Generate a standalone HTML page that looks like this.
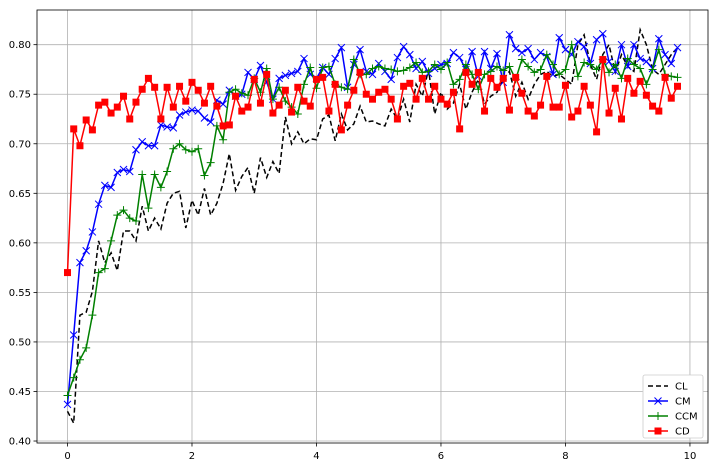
<!DOCTYPE html>
<html><head><meta charset="utf-8"><style>
body{margin:0;background:#fff;font-family:"Liberation Sans","DejaVu Sans",sans-serif;}
svg text{font-family:"DejaVu Sans","Liberation Sans",sans-serif;font-size:10px;fill:#000;}
</style></head><body>
<svg id="chart" width="716" height="469" xmlns="http://www.w3.org/2000/svg"></svg>
<script>
const xTicks=[0,2,4,6,8,10];
const yTicks=[0.40,0.45,0.50,0.55,0.60,0.65,0.70,0.75,0.80];
const seriesNames=["CL","CM","CCM","CD"];
const clValues=[.43,.418,.527,.530,.551,.602,.580,.590,.572,.612,
.612,.602,.637,.612,.625,.614,.640,.650,.652,.615,
.643,.628,.655,.628,.640,.660,.690,.653,.667,.676,
.650,.686,.666,.682,.670,.727,.700,.712,.700,.705,
.704,.725,.729,.703,.730,.714,.720,.738,.722,.723,
.720,.718,.735,.725,.745,.722,.760,.748,.775,.730,
.752,.735,.741,.760,.735,.752,.765,.740,.748,.752,
.765,.773,.748,.762,.745,.760,.770,.773,.768,.770,
.765,.760,.800,.810,.780,.765,.790,.800,.772,.790,
.778,.773,.815,.800,.775,.770,.780,.790,.797];
const cmValues=[.437,.507,.580,.592,.611,.639,.658,.656,.671,.674,
.672,.694,.702,.698,.698,.719,.717,.716,.729,.732,
.734,.733,.726,.722,.744,.740,.754,.748,.750,.772,
.765,.779,.762,.745,.766,.769,.771,.773,.786,.770,
.766,.777,.770,.786,.797,.757,.780,.795,.773,.770,
.781,.773,.765,.787,.798,.790,.776,.783,.771,.776,
.780,.781,.792,.787,.775,.793,.768,.793,.776,.791,
.762,.810,.796,.792,.796,.785,.792,.788,.770,.807,
.795,.790,.803,.798,.781,.805,.811,.783,.773,.800,
.778,.800,.786,.783,.776,.806,.790,.781,.797];
const ccmValues=[.446,.464,.482,.494,.527,.570,.574,.602,.628,.633,
.625,.622,.669,.635,.669,.656,.672,.695,.700,.694,
.692,.695,.668,.681,.718,.704,.752,.755,.751,.749,
.766,.752,.776,.745,.757,.743,.737,.730,.760,.777,
.756,.777,.778,.760,.757,.755,.785,.770,.770,.776,
.778,.776,.775,.773,.774,.777,.782,.772,.773,.780,
.775,.782,.760,.765,.780,.770,.755,.770,.773,.778,
.774,.778,.765,.785,.778,.772,.775,.790,.780,.770,
.775,.800,.768,.782,.780,.775,.785,.772,.780,.766,
.786,.780,.776,.760,.775,.795,.770,.768,.767];
const cdValues=[.570,.715,.698,.724,.714,.739,.742,.731,.737,.748,
.725,.742,.755,.766,.757,.725,.757,.737,.758,.743,
.762,.754,.741,.758,.738,.718,.719,.748,.733,.737,
.765,.741,.770,.731,.739,.754,.732,.757,.743,.738,
.765,.767,.733,.760,.714,.739,.754,.772,.750,.745,
.752,.755,.745,.725,.758,.761,.745,.766,.745,.758,
.745,.740,.752,.715,.772,.760,.772,.733,.766,.757,
.766,.734,.767,.751,.733,.728,.739,.768,.737,.737,
.759,.727,.733,.758,.739,.712,.785,.731,.756,.725,
.766,.751,.763,.749,.738,.733,.767,.746,.758];
const xStep=0.1;

const svg=document.getElementById('chart');
const NS='http://www.w3.org/2000/svg';
const L=37,R=708,T=10,B=443;
const xMin=-0.49,xMax=10.29,yMin=0.398,yMax=0.835;
function sx(v){return L+(v-xMin)/(xMax-xMin)*(R-L);}
function sy(v){return B-(v-yMin)/(yMax-yMin)*(B-T);}
function mk(tag,attrs,parent){const e=document.createElementNS(NS,tag);for(const k in attrs)e.setAttribute(k,attrs[k]);(parent||svg).appendChild(e);return e;}

const grid=mk('g',{});


xTicks.forEach(t=>{
  const x=sx(t);
  const gl=mk('line',{x1:x,x2:x,y1:T,y2:B,stroke:'#b0b0b0','stroke-width':0.8},grid);
  
  
  mk('line',{x1:x,x2:x,y1:B,y2:B+3.5,stroke:'#000','stroke-width':0.8});
  const tx=mk('text',{x:x,y:B+16,'text-anchor':'middle'});
  tx.textContent=String(t);
  
  
});
yTicks.forEach(t=>{
  const y=sy(t);
  const gl=mk('line',{x1:L,x2:R,y1:y,y2:y,stroke:'#b0b0b0','stroke-width':0.8},grid);
  
  
  mk('line',{x1:L-3.5,x2:L,y1:y,y2:y,stroke:'#000','stroke-width':0.8});
  const tx=mk('text',{x:L-6,y:y+3.5,'text-anchor':'end'});
  tx.textContent=t.toFixed(2);
  
  
});

const styles=[
 {vals:clValues,color:'#000',dash:'5,3',marker:'none',name:'series-cl'},
 {vals:cmValues,color:'#0000ff',dash:'',marker:'x',name:'series-cm'},
 {vals:ccmValues,color:'#008000',dash:'',marker:'+',name:'series-ccm'},
 {vals:cdValues,color:'#ff0000',dash:'',marker:'s',name:'series-cd'}
];
function drawMarker(g,type,x,y,c){
  if(type==='x'){mk('path',{d:`M${x-3.5},${y-3.5}L${x+3.5},${y+3.5}M${x-3.5},${y+3.5}L${x+3.5},${y-3.5}`,stroke:c,'stroke-width':1},g);}
  else if(type==='+'){mk('path',{d:`M${x-4},${y}L${x+4},${y}M${x},${y-4}L${x},${y+4}`,stroke:c,'stroke-width':1},g);}
  else if(type==='s'){mk('rect',{x:x-3.5,y:y-3.5,width:7,height:7,fill:c},g);}
}
styles.forEach(s=>{
  const g=mk('g',{});
  
  
  const pts=s.vals.map((v,i)=>sx(i*xStep).toFixed(1)+','+sy(v).toFixed(1)).join(' ');
  mk('polyline',{points:pts,fill:'none',stroke:s.color,'stroke-width':1.5,'stroke-dasharray':s.dash},g);
  if(s.marker!=='none') s.vals.forEach((v,i)=>drawMarker(g,s.marker,sx(i*xStep),sy(v),s.color));
});

mk('rect',{x:L,y:T,width:R-L,height:B-T,fill:'none',stroke:'#000','stroke-width':0.8});

const lg=mk('g',{});


mk('rect',{x:643,y:375,width:60,height:63,fill:'#fff',stroke:'#ccc','stroke-width':0.8,rx:2},lg);
styles.forEach((s,i)=>{
  const y=386+i*15;
  const e=mk('g',{},lg);
  
  
  mk('line',{x1:648,x2:668,y1:y,y2:y,stroke:s.color,'stroke-width':1.5,'stroke-dasharray':s.dash},e);
  if(s.marker!=='none') drawMarker(e,s.marker,658,y,s.color);
  const t=mk('text',{x:675,y:y+3.5},e);
  t.textContent=seriesNames[i];
});
</script>
</body></html>
